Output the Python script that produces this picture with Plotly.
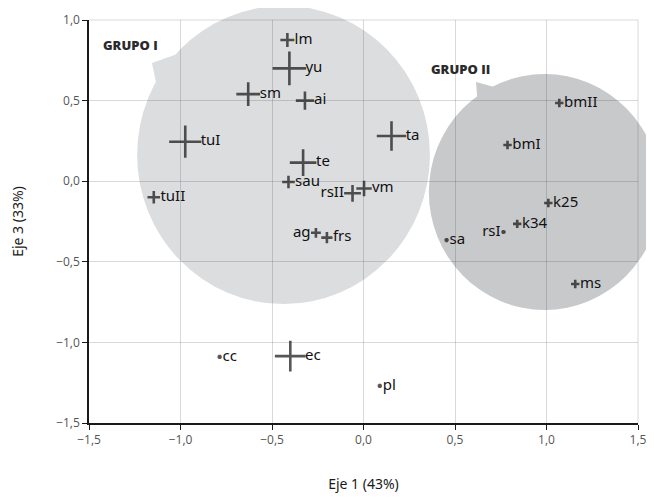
import plotly.graph_objects as go

# ---- data ----
labels = ["lm", "yu", "sm", "ai", "tuI", "te", "ta", "sau", "tuII", "rsII", "vm",
          "ag", "frs", "bmII", "bmI", "k25", "k34", "rsI", "sa", "ms", "cc", "ec", "pl"]
eje1 = [-0.416, -0.405, -0.63, -0.32, -0.974, -0.33, 0.153, -0.41, -1.146, -0.06, 0.003,
        -0.26, -0.20, 1.07, 0.787, 1.01, 0.84, 0.765, 0.454, 1.157, -0.786, -0.40, 0.089]
eje3 = [0.876, 0.70, 0.54, 0.50, 0.245, 0.115, 0.28, -0.005, -0.10, -0.075, -0.045,
        -0.32, -0.35, 0.485, 0.225, -0.135, -0.265, -0.315, -0.365, -0.638, -1.09, -1.085, -1.27]
peso = [10, 24, 17, 13, 23, 19, 21, 9, 9, 12, 11,
        7, 8, 6, 6, 6, 6, 3, 3, 6, 3, 22, 3]
lado = ["middle right"] * len(labels)
for nm in ("ag", "rsII", "rsI"):
    lado[labels.index(nm)] = "middle left"

grupos = ["GRUPO I", "GRUPO II"]
grupo_x = [-1.275, 0.53]
grupo_y = [0.845, 0.696]

xticks = [-1.5, -1.0, -0.5, 0.0, 0.5, 1.0, 1.5]
yticks = [-1.5, -1.0, -0.5, 0.0, 0.5, 1.0]
XR = [-1.5, 1.5]
YR = [-1.5, 1.0]

GRID = "rgba(0,0,0,0.15)"


def px(x):
    return (x - XR[0]) / (XR[1] - XR[0])


def py(y):
    return (y - YR[0]) / (YR[1] - YR[0])


def circle(cx, cy, rx, ry, color):
    return dict(type="circle", xref="paper", yref="paper",
                x0=px(cx - rx), x1=px(cx + rx), y0=py(cy - ry), y1=py(cy + ry),
                fillcolor=color, line=dict(width=0), layer="below")


def tail(pts, color):
    d = "M " + " L ".join(f"{px(a)},{py(b)}" for a, b in pts) + " Z"
    return dict(type="path", xref="paper", yref="paper", path=d,
                fillcolor=color, line=dict(width=0), layer="below")


light = "#dcdddf"
dark = "#c8c9cb"

shapes = [
    circle(-0.437, 0.163, 0.80, 0.925, light),
    tail([(-1.156, 0.733), (-0.99, 0.80), (-1.12, 0.54)], light),
    circle(0.99, -0.067, 0.633, 0.732, dark),
    tail([(0.615, 0.615), (0.73, 0.58), (0.625, 0.47)], dark),
    # grid lines at the top and right ends of the ranges
    dict(type="line", xref="paper", yref="paper", x0=0, x1=1, y0=1, y1=1,
         line=dict(color=GRID, width=1), layer="below"),
    dict(type="line", xref="paper", yref="paper", x0=1, x1=1, y0=0, y1=1,
         line=dict(color=GRID, width=1), layer="below"),
]

fig = go.Figure()
fig.add_trace(go.Scatter(
    x=eje1, y=eje3, mode="markers+text", text=labels, textposition=lado,
    marker=dict(symbol="cross-thin", size=peso, color="#111111",
                line=dict(width=2.6, color="#111111")),
    textfont=dict(family="Noto Sans", size=15, color="#111111"),
    hoverinfo="skip", cliponaxis=False, showlegend=False,
))

for g, gx, gy in zip(grupos, grupo_x, grupo_y):
    fig.add_annotation(x=gx, y=gy, text=g, showarrow=False,
                       font=dict(family="Open Sans", size=13, color="#2a2a2a", weight=800))

axis_common = dict(
    showgrid=True, gridcolor=GRID, gridwidth=1,
    zeroline=False, showline=True, linecolor="#1a1a1a", linewidth=1.5,
    ticks="outside", ticklen=5, tickcolor="#1a1a1a", tickwidth=1,
    tickfont=dict(family="Open Sans", size=12, color="#555555"),
    tickformat=".1f", automargin=False, ticklabeloverflow="allow",
)

# the page body adds an 8px margin, so the figure is sized to fit inside it
fig.update_layout(
    width=638, height=485,
    margin=dict(l=81, r=8, t=12, b=70),
    paper_bgcolor="white", plot_bgcolor="white",
    separators=", ",
    shapes=shapes,
    xaxis=dict(range=XR, tickvals=xticks, **axis_common,
               title=dict(text="Eje 1 (43%)", standoff=34,
                          font=dict(family="Noto Sans", size=14, color="#1a1a1a"))),
    yaxis=dict(range=YR, tickvals=yticks, **axis_common,
               title=dict(text="Eje 3 (33%)", standoff=30,
                          font=dict(family="Noto Sans", size=14, color="#1a1a1a"))),
)

fig.write_html("out.html")
